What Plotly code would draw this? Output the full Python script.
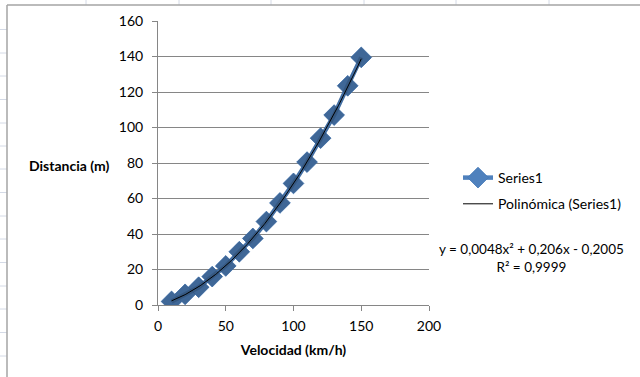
import numpy as np
import plotly.graph_objects as go

# Stopping distance vs. speed
velocidad = [10, 20, 30, 40, 50, 60, 70, 80, 90, 100, 110, 120, 130, 140, 150]
distancia = [2, 6, 10, 16, 22, 30, 37.5, 47, 57.5, 68.5, 80.5, 94, 107, 123.5, 139.5]

# Quadratic trendline coefficients (a, b, c) and its R²
coef = [0.0048, 0.206, -0.2005]
r2 = 0.9999

x_ticks = [0, 50, 100, 150, 200]
y_ticks = [0, 20, 40, 60, 80, 100, 120, 140, 160]

W, H = 640, 377
SH_X, SH_Y = 2, 3                      # shadow offset in pixels
ML, MR, MT, MB = 158, 211 - SH_X, 21, 72 - SH_Y
PW, PH = W - ML - MR, H - MT - MB
FONT = "Lato"


def px(x):
    return (x - ML) / PW


def py(y):
    return (H - MB - y) / PH


def num(v):
    return str(abs(v)).replace(".", ",")


xt = np.linspace(velocidad[0], velocidad[-1], 200)
yt = np.polyval(coef, xt)

fig = go.Figure()

# soft drop shadow of the series (same data on a slightly offset axis pair)
fig.add_trace(go.Scatter(
    x=velocidad, y=distancia, mode="lines+markers", xaxis="x2", yaxis="y2",
    line=dict(color="rgba(0,0,0,0.14)", width=4.5),
    marker=dict(symbol="diamond", size=16, color="rgba(0,0,0,0.2)",
                line=dict(width=0)),
    showlegend=False, hoverinfo="skip"))

fig.add_trace(go.Scatter(
    x=velocidad, y=distancia, mode="lines+markers", name="Series1",
    legendgroup="a",
    line=dict(color="#4f81bd", width=4.5),
    marker=dict(symbol="diamond", size=16, color="#4f81bd",
                line=dict(color="#4377b6", width=0.8))))

fig.add_trace(go.Scatter(
    x=xt, y=yt, mode="lines", name="Polinómica (Series1)",
    legendgroup="b",
    line=dict(color="black", width=1)))

shapes = []
grid_col = "#d4dae6"
# worksheet cell lines around the chart object
for gy in [29.5, 53, 76, 99.5, 123, 146, 169, 192.5, 216, 239, 262.5, 286, 309, 332.5, 356]:
    shapes.append(dict(type="line", xref="paper", yref="paper",
                       x0=px(0), x1=px(7), y0=py(gy), y1=py(gy),
                       line=dict(color=grid_col, width=1), layer="below"))
for gx in [86, 179, 271, 364, 456, 549]:
    shapes.append(dict(type="line", xref="paper", yref="paper",
                       x0=px(gx), x1=px(gx), y0=py(0), y1=py(5),
                       line=dict(color=grid_col, width=1), layer="below"))
# chart object border
shapes.append(dict(type="line", xref="paper", yref="paper",
                   x0=px(7), x1=px(7), y0=py(5), y1=py(H + 2),
                   line=dict(color="#a5a5a5", width=1.5)))
shapes.append(dict(type="line", xref="paper", yref="paper",
                   x0=px(7), x1=px(W + 2), y0=py(5), y1=py(5),
                   line=dict(color="#a5a5a5", width=1.5)))

axis_col = "#868686"
tickfont = dict(family=FONT, size=14, color="black")

eq = (f"y = {num(coef[0])}x² + {num(coef[1])}x "
      f"{'-' if coef[2] < 0 else '+'} {num(coef[2])}<br>R² = {num(r2)}")

fig.update_layout(
    width=W, height=H, autosize=False,
    margin=dict(l=ML, r=MR, t=MT, b=MB, pad=0),
    paper_bgcolor="white", plot_bgcolor="white",
    font=dict(family=FONT, size=14, color="black"),
    xaxis=dict(range=[0, 200], domain=[0, 1 - SH_X / PW],
               tickvals=x_ticks, ticks="outside", ticklen=5,
               tickcolor=axis_col, showline=True, linecolor=axis_col,
               linewidth=1, showgrid=False, zeroline=False,
               tickfont=tickfont, ticklabelstandoff=3,
               title=dict(text="<b>Velocidad (km/h)</b>", standoff=12,
                          font=dict(family=FONT, size=14, color="black"))),
    yaxis=dict(range=[0, 160], domain=[SH_Y / PH, 1],
               tickvals=y_ticks, ticks="outside", ticklen=5,
               tickcolor=axis_col, showline=True, linecolor=axis_col,
               linewidth=1, showgrid=True, gridcolor=axis_col, gridwidth=1,
               zeroline=False, tickfont=tickfont, ticklabelstandoff=6),
    xaxis2=dict(range=[0, 200], domain=[SH_X / PW, 1], overlaying="x",
                visible=False, anchor="y2"),
    yaxis2=dict(range=[0, 160], domain=[0, 1 - SH_Y / PH], overlaying="y",
                visible=False, anchor="x2"),
    legend=dict(x=px(458), y=py(162), xanchor="left", yanchor="top",
                bgcolor="rgba(0,0,0,0)", tracegroupgap=5,
                font=dict(family=FONT, size=14, color="black")),
    shapes=shapes,
    annotations=[
        dict(text="<b>Distancia (m)</b>", xref="paper", yref="paper",
             x=px(69), y=py(165), xanchor="center", yanchor="middle",
             showarrow=False,
             font=dict(family=FONT, size=14, color="black")),
        dict(text=eq, xref="paper", yref="paper", x=px(531), y=py(258),
             xanchor="center", yanchor="middle",
             showarrow=False, align="center",
             font=dict(family=FONT, size=13.5, color="black")),
    ],
)

fig.write_html("out.html")
